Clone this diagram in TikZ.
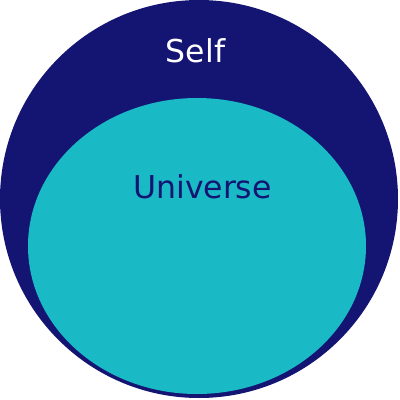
\documentclass[tikz,border=0pt]{standalone}
\usepackage{fontspec}
\setmainfont{DejaVu Sans}
\definecolor{navy}{HTML}{141473}
\definecolor{cyanfill}{HTML}{1AB9C6}
\begin{document}
\begin{tikzpicture}[x=1pt,y=-1pt,
  lbl/.style={font=\fontsize{31.5}{36}\selectfont, anchor=base, inner sep=0pt}]
\useasboundingbox (0,0) rectangle (400,400);
\fill[navy] (199,199) circle[radius=199];
\fill[cyanfill] (197,246) ellipse[x radius=169, y radius=148];
\node[lbl, text=white] (self) at (195.5,62) {Self};
\node[lbl, text=navy] (universe) at (202.5,198) {Universe};
\end{tikzpicture}
\end{document}
